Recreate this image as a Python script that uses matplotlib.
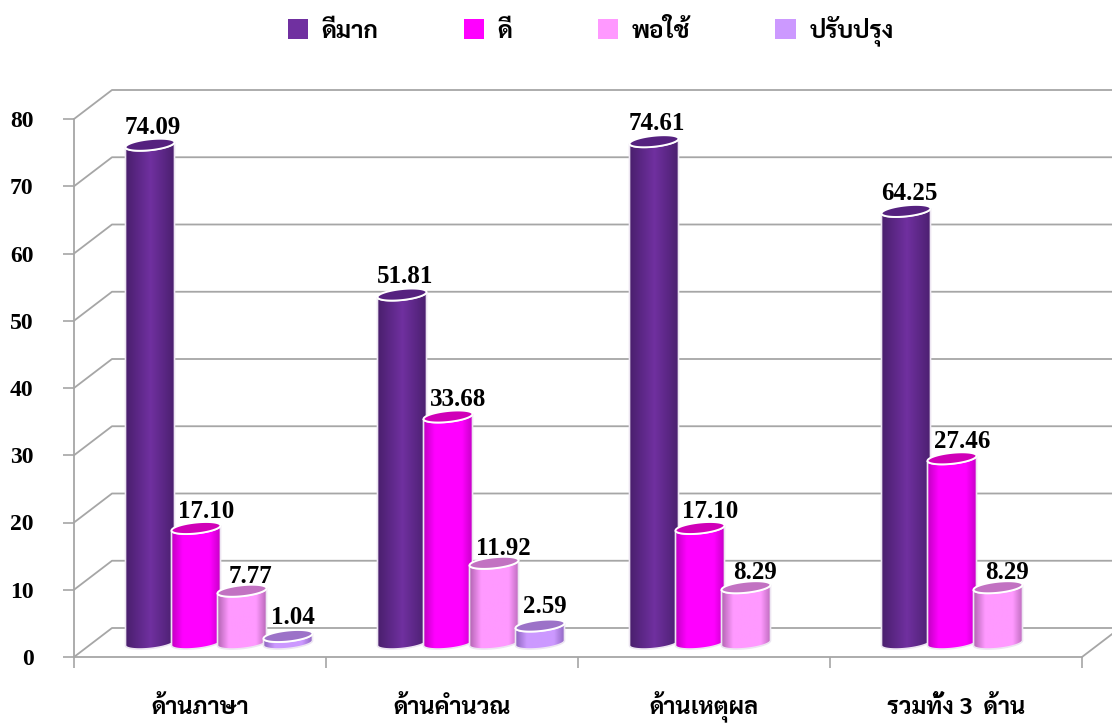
import numpy as np
import matplotlib
matplotlib.use("Agg")
import matplotlib.pyplot as plt
from matplotlib import font_manager as fm
from matplotlib.colors import LinearSegmentedColormap
from matplotlib.patches import Patch, PathPatch, Polygon
from matplotlib.path import Path

# Data
categories = ["ด้านภาษา", "ด้านคำนวณ", "ด้านเหตุผล", "รวมทั้ง 3  ด้าน"]
series_names = ["ดีมาก", "ดี", "พอใช้", "ปรับปรุง"]
very_good = [74.09, 51.81, 74.61, 64.25]
good = [17.10, 33.68, 17.10, 27.46]
fair = [7.77, 11.92, 8.29, 8.29]
improve = [1.04, 2.59, None, None]
y_ticks = [0, 10, 20, 30, 40, 50, 60, 70, 80]

colors = ["#7030A0", "#FF00FF", "#FF99FF", "#CC99FF"]
edge_colors = ["#4A1F6E", "#C400C4", "#B566B5", "#8F66C0"]
top_colors = ["#55217F", "#D000B8", "#C272C2", "#9C72C8"]
label_dx = [3, 10, 9, 5]   # label shift from the bar centre, pixels
label_dy = [-2, -3, -5, -1]

thai_family = ["Sarabun", "Liberation Sans"]
num_family = "Liberation Serif"

W, H = 1112, 724
PX_X = 252.0        # pixels per category
PX_Y = 6.725        # pixels per unit
X0, Y0 = 74, 657    # front corner of the floor, pixels

fig = plt.figure(figsize=(W / 100, H / 100), dpi=100)
ax = fig.add_axes([0, 0, 1, 1])
ax.set_facecolor("white")

depth_x = 38 / PX_X
depth_y = 29 / PX_Y
xmax = (W - X0) / PX_X
grid_col = "#A6A6A6"

# back wall lines and side wall
for v in y_ticks:
    ax.plot([0, depth_x, xmax], [v, v + depth_y, v + depth_y], color=grid_col, lw=1.3, zorder=1)
ax.plot([4, 4 + depth_x], [0, depth_y], color=grid_col, lw=1.3, zorder=1)

# spines first, set_position resets the tick labels
for side in ("top", "right"):
    ax.spines[side].set_visible(False)
ax.spines["left"].set_position(("data", 0))
ax.spines["bottom"].set_position(("data", 0))
ax.spines["left"].set_bounds(0, 80)
ax.spines["bottom"].set_bounds(0, 4)
ax.spines["left"].set_color(grid_col)
ax.spines["bottom"].set_color(grid_col)
ax.spines["left"].set_linewidth(1.3)
ax.spines["bottom"].set_linewidth(1.3)

ax.set_xticks([0, 1, 2, 3, 4])
ax.set_xticklabels([])
ax.set_xticks([0.5, 1.5, 2.5, 3.5], minor=True)
ax.set_xticklabels(categories, minor=True, family=thai_family, fontsize=17, fontweight="bold",
                   va="baseline")
ax.tick_params(axis="x", which="minor", length=0, pad=41)
ax.tick_params(axis="x", which="major", length=8, color=grid_col, width=1.2)
ax.set_yticks(y_ticks)
ax.set_yticklabels(y_ticks, family=num_family, fontsize=17, fontweight="bold")
ax.tick_params(axis="y", length=8, color=grid_col, width=1.2, pad=21)

bar_w = 49 / PX_X
bar_step = 46 / PX_X
bar_off = 51.5 / PX_X
base = 14 / PX_Y     # the cylinders stand a little behind the front edge
rx = bar_w / 2
ry = 5.5 / PX_Y
tilt = 2.5 / PX_Y    # right side of the ellipses sits higher than the left


def ellipse_arc(cx, cy, t):
    return np.column_stack([cx + rx * np.cos(t), cy + ry * np.sin(t) + tilt * np.cos(t)])


def draw_cylinder(x, v, i):
    cx = x + rx
    cy = base + v
    t_low = np.linspace(np.pi, 2 * np.pi, 50)
    t_all = np.linspace(0, 2 * np.pi, 100)
    # body: lower arc at the base, then back over the top arc
    low = ellipse_arc(cx, base, t_low)
    high = ellipse_arc(cx, cy, t_low[::-1])
    body = np.vstack([low, high, low[:1]])
    if i == 0:
        stops = [(0, edge_colors[i]), (0.5, colors[i]), (1, edge_colors[i])]
    else:
        stops = [(0, edge_colors[i]), (0.22, colors[i]), (0.78, colors[i]), (1, edge_colors[i])]
    cmap = LinearSegmentedColormap.from_list("c", stops)
    im = ax.imshow(np.linspace(0, 1, 128).reshape(1, -1), cmap=cmap, aspect="auto",
                   extent=[x, x + bar_w, base - 2 * ry, cy + 2 * ry], zorder=3 + i * 0.1)
    outline = PathPatch(Path(body), facecolor="none", edgecolor="#EDE6F2", lw=1.2,
                        zorder=3.02 + i * 0.1)
    ax.add_patch(outline)
    im.set_clip_path(outline)
    ax.add_patch(Polygon(ellipse_arc(cx, cy, t_all), closed=True, facecolor=top_colors[i],
                         edgecolor="white", lw=1.4, zorder=3.04 + i * 0.1))
    ax.text(cx + label_dx[i] / PX_X, cy + ry + 0.4 + label_dy[i] / PX_Y, f"{v:.2f}",
            ha="center", va="bottom", family=num_family, fontsize=18, fontweight="bold",
            color="black", zorder=6)


for i, vals in enumerate([very_good, good, fair, improve]):
    for k, v in enumerate(vals):
        if v is not None:
            draw_cylinder(k + bar_off + i * bar_step, v, i)

ax.set_xlim(-X0 / PX_X, xmax)
ax.set_ylim(-(H - Y0) / PX_Y, Y0 / PX_Y)

handles = [Patch(facecolor=c, edgecolor="none") for c in colors]
ax.legend(handles, series_names, ncol=4, frameon=False, loc="center", bbox_to_anchor=(0.531, 0.957),
          prop=fm.FontProperties(family=thai_family, size=17.5, weight="bold"),
          handlelength=0.86, handleheight=0.9, handletextpad=0.54, columnspacing=3.5)

fig.savefig("out.png", dpi=100)
